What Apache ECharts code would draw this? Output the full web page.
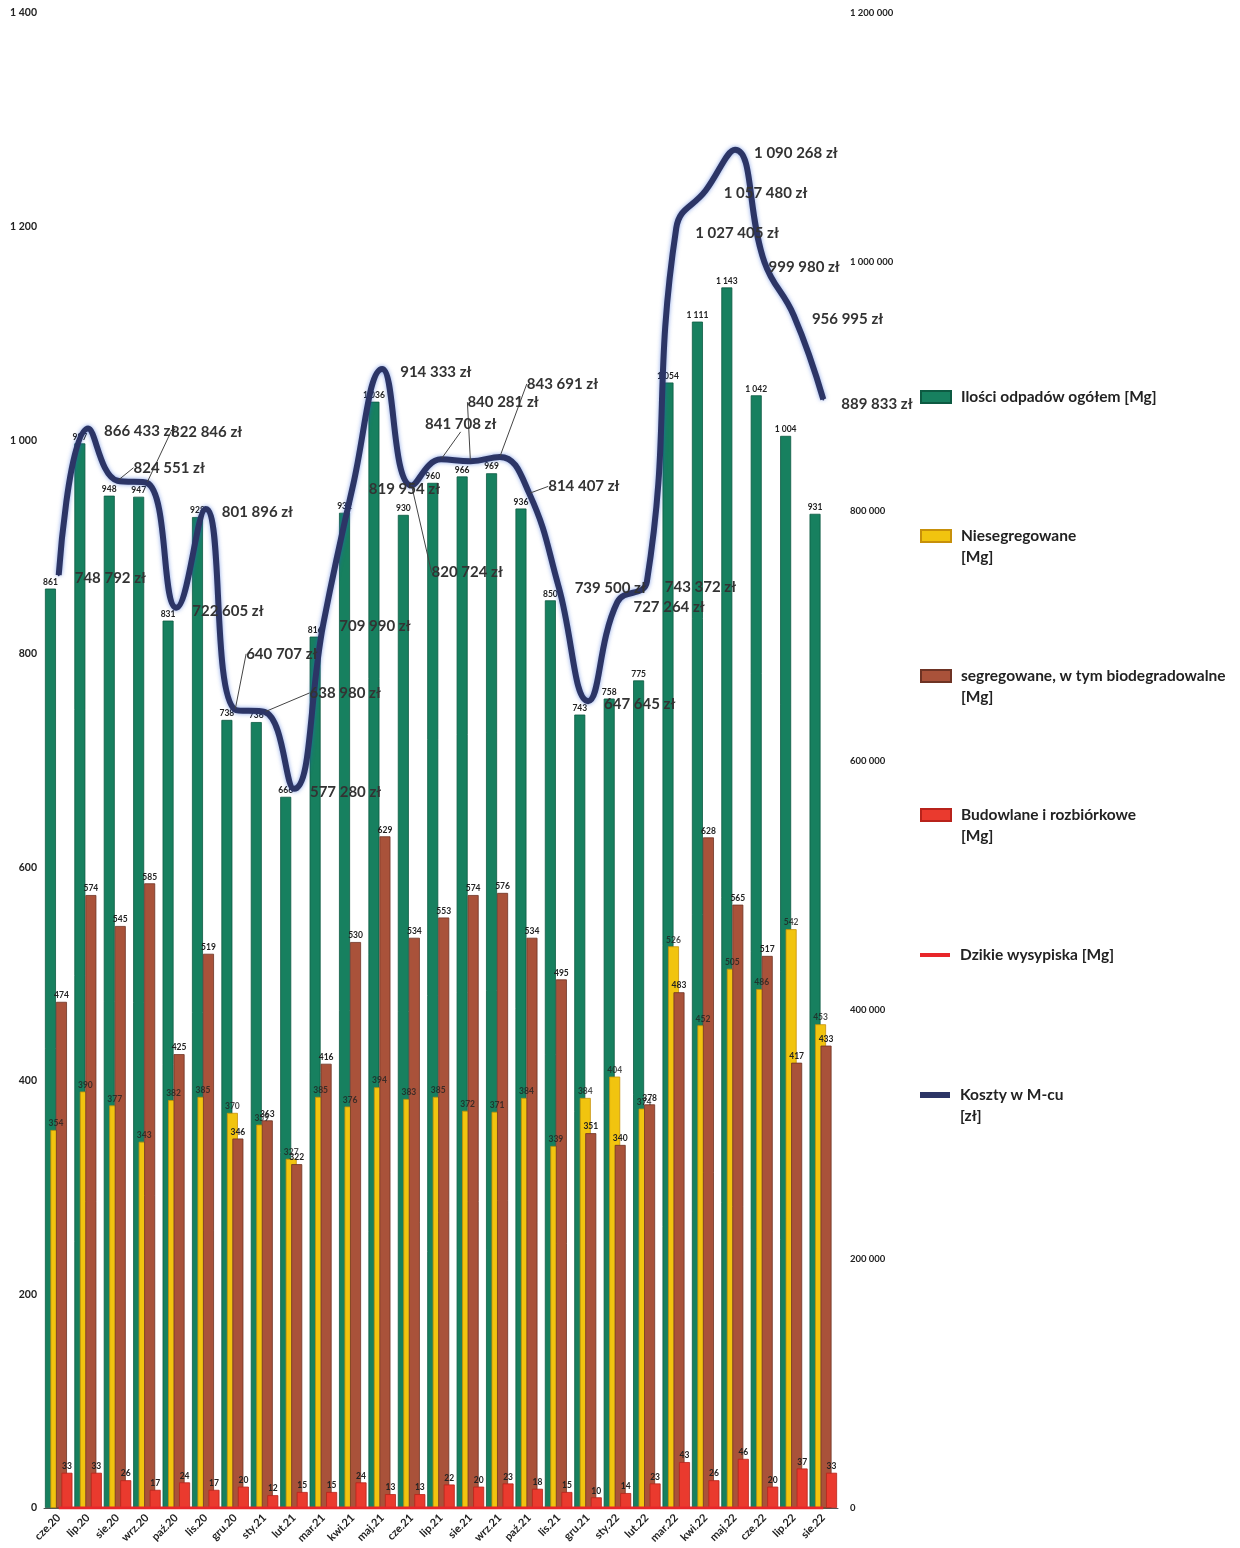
<!DOCTYPE html>
<html>
<head>
<meta charset="utf-8">
<script src="https://cdn.jsdelivr.net/npm/echarts@6/dist/echarts.min.js"></script>
<style>
html,body{margin:0;padding:0;background:#fff;}
#chart{width:1240px;height:1548px;}
</style>
</head>
<body>
<div id="chart"></div>
<script>
const categories = ['cze.20','lip.20','sie.20','wrz.20','paź.20','lis.20','gru.20','sty.21','lut.21','mar.21','kwi.21','maj.21','cze.21','lip.21','sie.21','wrz.21','paź.21','lis.21','gru.21','sty.22','lut.22','mar.22','kwi.22','maj.22','cze.22','lip.22','sie.22'];
const totalWaste = [861,997,948,947,831,928,738,736,666,816,932,1036,930,960,966,969,936,850,743,758,775,1054,1111,1143,1042,1004,931];
const unsorted = [354,390,377,343,382,385,370,359,327,385,376,394,383,385,372,371,384,339,384,404,374,526,452,505,486,542,453];
const sorted = [474,574,545,585,425,519,346,363,322,416,530,629,534,553,574,576,534,495,351,340,378,483,628,565,517,417,433];
const construction = [33,33,26,17,24,17,20,12,15,15,24,13,13,22,20,23,18,15,10,14,23,43,26,46,20,37,33];
const illegalDumps = [0,0,0,0,0,0,0,0,0,0,0,0,0,0,0,0,0,0,0,0,0,0,0,0,0,0,0];
const monthlyCost = [748792,866433,824551,822846,722605,801896,640707,638980,577280,709990,819954,914333,820724,841708,840281,843691,814407,739500,647645,727264,743372,1027405,1057480,1090268,999980,956995,889833];
const leftTicks = [0,200,400,600,800,1000,1200,1400];
const rightTicks = [0,200000,400000,600000,800000,1000000,1200000];

// label layout tweaks (pixels) for the cost labels
const costLabelShift = [[0,0],[0,0],[0,-16],[8,-54],[0,0],[0,0],[-5,-59],[29,-22],[0,0],[0,0],[0,0],[2,0],[4,84],[-32,-38],[-19,-62],[11,-76],[3,-10],[0,-2],[0,0],[0,2],[2,2],[3,2],[2,0],[3,0],[-12,2],[2,0],[2,2]];

function sp(v){ return String(v).replace(/\B(?=(\d{3})+(?!\d))/g,' '); }

const FONT = 'Lato';
const names = {
  total: 'Ilości odpadów ogółem [Mg]',
  uns: 'Niesegregowane [Mg]',
  sor: 'segregowane, w tym biodegradowalne [Mg]',
  con: 'Budowlane i rozbiórkowe [Mg]',
  ill: 'Dzikie wysypiska [Mg]',
  cost: 'Koszty w M-cu [zł]'
};
const legendText = {};
legendText[names.total] = 'Ilości odpadów ogółem [Mg]';
legendText[names.uns] = 'Niesegregowane\n[Mg]';
legendText[names.sor] = 'segregowane, w tym biodegradowalne\n[Mg]';
legendText[names.con] = 'Budowlane i rozbiórkowe\n[Mg]';
legendText[names.ill] = 'Dzikie wysypiska [Mg]';
legendText[names.cost] = 'Koszty w M-cu\n[zł]';

// legend icons: visible block at the top-left, invisible points reserve space so the
// block sits level with the first text line and the text starts 10px after it
const ICON_BAR_1 = 'path://M0,0H30V12H0Z M35,12L35,12';
const ICON_BAR_2 = 'path://M0,0H30V12H0Z M35,33L35,33';
const ICON_THIN_1 = 'path://M0,0H30V4H0Z M35,4L35,4';
const ICON_LINE_2 = 'path://M0,0H30V6H0Z M35,27L35,27';

function barLabel(){
  return {show:true, position:'top', distance:2, fontFamily:FONT, fontWeight:'bold', fontSize:8.5, color:'#222',
    formatter: p => sp(p.value)};
}

function legend(name, top, icon, h){
  return {
    data:[{name:name, icon:icon}], left:920, top:top, orient:'vertical', padding:0,
    itemWidth:35, itemHeight:h, itemGap:0,
    textStyle:{fontFamily:FONT, fontWeight:'bold', fontSize:15.5, color:'#222', lineHeight:21},
    formatter: n => legendText[n]
  };
}

const chart = echarts.init(document.getElementById('chart'));
chart.setOption({
  animation:false,
  backgroundColor:'#fff',
  grid:{left:44, right:402, top:13, bottom:40},
  legend:[
    legend(names.total, 386.5, ICON_BAR_1, 12),
    legend(names.uns, 525.5, ICON_BAR_2, 33),
    legend(names.sor, 665.5, ICON_BAR_2, 33),
    legend(names.con, 804.5, ICON_BAR_2, 33),
    legend(names.ill, 944.5, ICON_THIN_1, 4),
    legend(names.cost, 1084.5, ICON_LINE_2, 27)
  ],
  xAxis:{
    type:'category', data:categories,
    axisLine:{show:true, lineStyle:{color:'#555', width:1}},
    axisTick:{show:false},
    axisLabel:{rotate:45, interval:0, fontFamily:FONT, fontWeight:'bold', fontSize:11, color:'#222', margin:8}
  },
  yAxis:[
    {type:'value', min:0, max:1400, interval:200,
     splitLine:{show:false}, axisLine:{show:false}, axisTick:{show:false},
     axisLabel:{fontFamily:FONT, fontWeight:'bold', fontSize:10.5, color:'#222', margin:7, formatter:v=>sp(v)}},
    {type:'value', min:0, max:1200000, interval:200000,
     splitLine:{show:false}, axisLine:{show:false}, axisTick:{show:false},
     axisLabel:{fontFamily:FONT, fontWeight:'bold', fontSize:9.5, color:'#222', margin:12, formatter:v=>sp(v)}}
  ],
  series:[
    {name:names.total, type:'bar', data:totalWaste, barWidth:11, barGap:'-50%',
     itemStyle:{color:'#17805f', borderColor:'#0d5a42', borderWidth:0.8}, label:barLabel(), z:2},
    {name:names.uns, type:'bar', data:unsorted, barWidth:11, barGap:'-50%',
     itemStyle:{color:'#f1c40f', borderColor:'#c7900a', borderWidth:0.8}, z:3},
    {name:names.sor, type:'bar', data:sorted, barWidth:11, barGap:'-50%',
     itemStyle:{color:'#a9523a', borderColor:'#6e3324', borderWidth:0.8}, label:barLabel(), z:4},
    {name:names.con, type:'bar', data:construction, barWidth:11, barGap:'-50%',
     itemStyle:{color:'#ea3a2e', borderColor:'#b8231b', borderWidth:0.8}, label:barLabel(), z:5},
    // value labels of the unsorted bars, kept above the neighbouring bars
    {name:'unsortedLabels', type:'scatter', data:unsorted, symbolSize:0, silent:true, z:7,
     label:Object.assign(barLabel(), {offset:[-2.75,0]})},
    {name:names.ill, type:'line', data:illegalDumps, symbol:'none',
     lineStyle:{color:'#e8262a', width:3}, itemStyle:{color:'#e8262a'}, z:6},
    {name:names.cost, type:'line', yAxisIndex:1, smooth:0.45, symbol:'circle', symbolSize:2, showSymbol:true,
     data: monthlyCost.map((v,i)=>({value:v, labelLine:{show: Math.abs(costLabelShift[i][1])>8}})),
     lineStyle:{color:'#2c3566', width:6, shadowColor:'rgba(40,90,210,0.55)', shadowBlur:4},
     itemStyle:{color:'#2c3566'},
     label:{show:true, position:'right', distance:15, fontFamily:FONT, fontWeight:'bold', fontSize:15, color:'#333',
       formatter:p=>sp(p.value)+' zł'},
     labelLine:{lineStyle:{color:'#444', width:1}},
     labelLayout: p => ({dx: costLabelShift[p.dataIndex][0], dy: costLabelShift[p.dataIndex][1] + 3}),
     z:10}
  ]
});
</script>
</body>
</html>
